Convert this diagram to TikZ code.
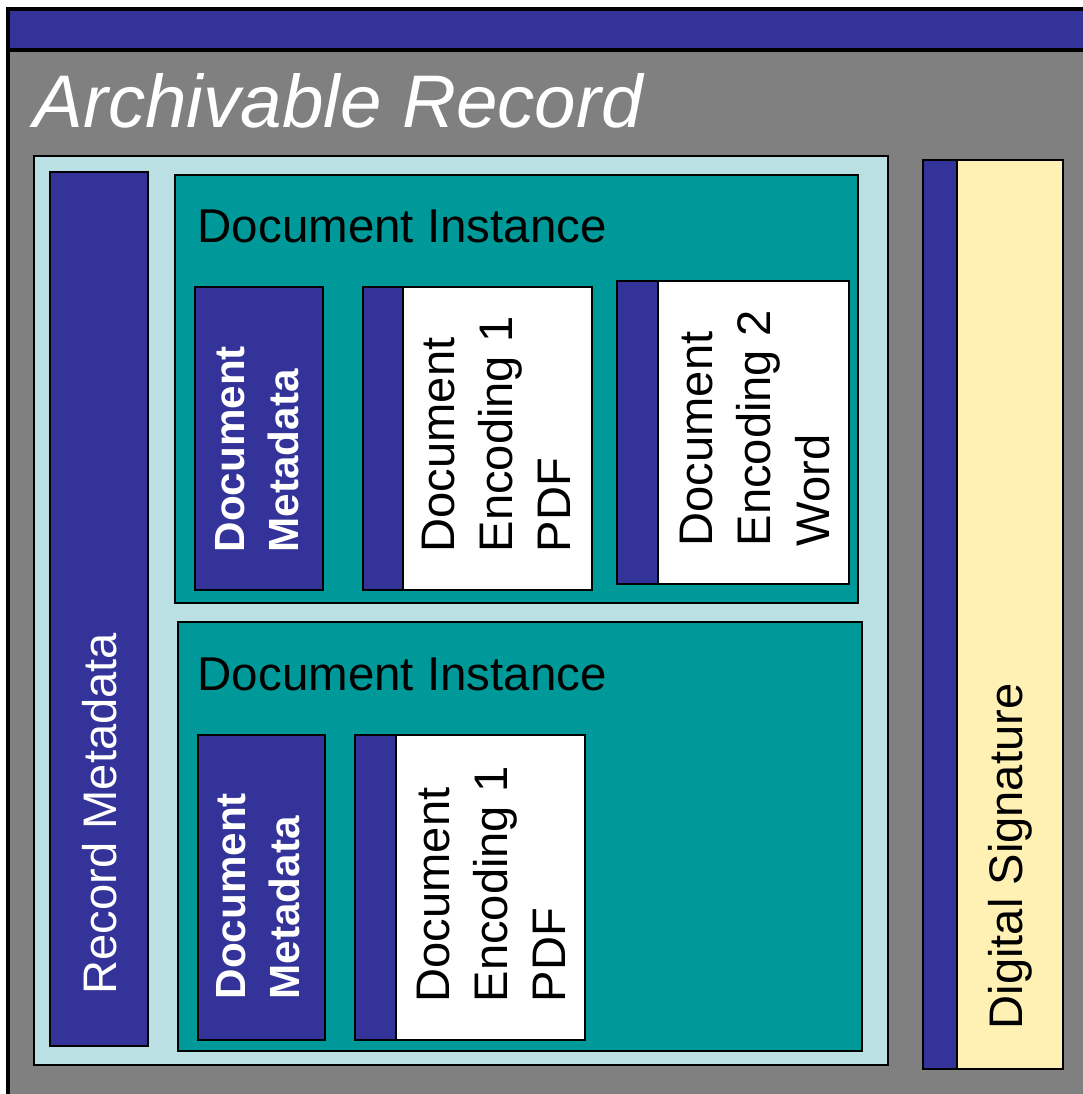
\documentclass[tikz,border=0pt]{standalone}
\usepackage{fontspec}
\setmainfont{Liberation Sans}
\definecolor{recblue}{HTML}{333399}
\definecolor{recgray}{HTML}{808080}
\definecolor{reclight}{HTML}{BBE0E3}
\definecolor{recteal}{HTML}{009999}
\definecolor{reccream}{HTML}{FFF0B3}
\tikzset{
	box/.style={draw=black, line width=0.6pt},
	vtext/.style={rotate=90, anchor=west, inner sep=0pt, align=left,
		font=\fontsize{13.4}{16.5}\selectfont},
	vbold/.style={vtext, text=white, font=\fontsize{12}{15.4}\selectfont\bfseries}
}

\begin{document}
\begin{tikzpicture}[x=0.01cm, y=-0.01cm]
	\useasboundingbox (0,0) rectangle (1083,1094);
	\clip (0,0) rectangle (1083,1094);
	\draw [box, line width=0.9pt, fill=recgray] (8,9) rectangle (1100,1110);
	\draw [box, line width=0.9pt, fill=recblue] (8,9) rectangle (1100,50);
	\node [anchor=base west, inner sep=0pt, text=white,
		font=\fontsize{21.2}{25}\selectfont\itshape] (title) at (33,128) {Archivable Record};
	\draw [box, fill=reclight] (34,156) rectangle (888,1065);
	\draw [box, fill=recblue] (50,172) rectangle (148,1046);
	\node [vtext, text=white] (rm) at (100,995) {Record Metadata};
	\draw [box, fill=recteal] (175,175) rectangle (858,603);
	\draw [box, fill=recteal] (178,622) rectangle (862,1051);
	\node [anchor=base west, inner sep=0pt,
		font=\fontsize{13.5}{16}\selectfont] (i1) at (197,242) {Document Instance};
	\node [anchor=base west, inner sep=0pt,
		font=\fontsize{13.5}{16}\selectfont] (i2) at (197,690) {Document Instance};
	\draw [box, fill=recblue] (195,287) rectangle (323,590);
	\node [vbold] (m1) at (257,553) {Document\\Metadata};
	\draw [box, fill=white] (363,287) rectangle (592,590);
	\draw [box, fill=recblue] (363,287) rectangle (403,590);
	\node [vtext] (e1) at (496,553) {Document\\Encoding 1\\PDF};
	\draw [box, fill=white] (617,281) rectangle (849,584);
	\draw [box, fill=recblue] (617,281) rectangle (658,584);
	\node [vtext] (e2) at (755,547) {Document\\Encoding 2\\Word};
	\draw [box, fill=recblue] (198,735) rectangle (325,1040);
	\node [vbold] (m2) at (258,1000) {Document\\Metadata};
	\draw [box, fill=white] (355,735) rectangle (585,1040);
	\draw [box, fill=recblue] (355,735) rectangle (396,1040);
	\node [vtext] (e3) at (491,1003) {Document\\Encoding 1\\PDF};
	\draw [box, fill=reccream] (923,160) rectangle (1063,1069);
	\draw [box, fill=recblue] (923,160) rectangle (957,1069);
	\node [vtext] (ds) at (1010,1030) {Digital Signature};
\end{tikzpicture}
\end{document}
